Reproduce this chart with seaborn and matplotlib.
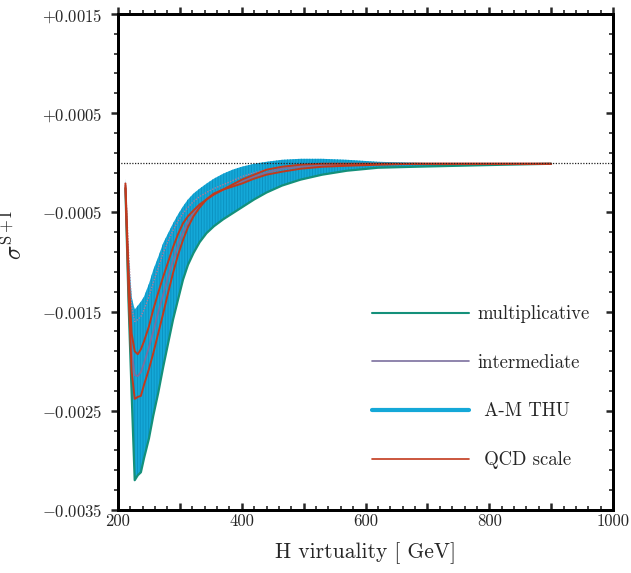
import numpy as np
import pandas as pd
import seaborn as sns
import matplotlib
matplotlib.use("Agg")
import matplotlib.pyplot as plt
from matplotlib.ticker import FixedLocator, MultipleLocator, FuncFormatter
from matplotlib.lines import Line2D

sns.set_theme(style="white")
plt.rcParams.update({
    "font.family": "serif",
    "font.serif": ["cmr10"],
    "mathtext.fontset": "cm",
    "axes.unicode_minus": False,
    "axes.formatter.use_mathtext": True,
    "hatch.linewidth": 0.7,
})

# ---- data ----
mass = [212, 217, 222, 227, 232, 237, 242, 250, 257, 265, 273, 281, 289, 297,
        305, 313, 322, 332, 343, 355, 370, 385, 400, 420, 440, 465, 495, 530,
        570, 620, 680, 750, 820, 900]

band_hi = [-0.00016, -0.00090, -0.00135, -0.00148, -0.00144, -0.00140, -0.00135,
           -0.00122, -0.00108, -0.00095, -0.00081, -0.00071, -0.00061, -0.00052,
           -0.00044, -0.00037, -0.00031, -0.00026, -0.00021, -0.00016, -0.00011,
           -0.00007, -0.00004, -0.00001, 0.00001, 0.00003, 0.00004, 0.00004,
           0.00003, 0.00001, 0.0, -0.00001, -0.00001, -0.00001]

band_lo = [-0.00026, -0.00140, -0.00232, -0.00320, -0.00315, -0.00312, -0.00298,
           -0.00278, -0.00255, -0.00232, -0.00206, -0.00182, -0.00158, -0.00138,
           -0.00118, -0.00103, -0.00091, -0.00080, -0.00071, -0.00064, -0.00057,
           -0.00051, -0.00045, -0.00037, -0.00030, -0.00023, -0.00017, -0.00012,
           -0.00008, -0.00005, -0.00004, -0.00003, -0.00002, -0.00001]

qcd_hi = [-0.00021, -0.00110, -0.00172, -0.00190, -0.00193, -0.00188, -0.00180,
          -0.00165, -0.00148, -0.00131, -0.00115, -0.00100, -0.00085, -0.00072,
          -0.00061, -0.00054, -0.00048, -0.00042, -0.00037, -0.00032, -0.00027,
          -0.00022, -0.00017, -0.00012, -0.00007, -0.00004, -0.00002, -0.00001,
          -0.00001, -0.00001, -0.00001, -0.00001, -0.00001, -0.00001]

qcd_lo = [-0.00025, -0.00130, -0.00210, -0.00238, -0.00236, -0.00235, -0.00224,
          -0.00208, -0.00192, -0.00172, -0.00152, -0.00131, -0.00111, -0.00093,
          -0.00078, -0.00065, -0.00054, -0.00045, -0.00037, -0.00031, -0.00027,
          -0.00024, -0.00021, -0.00016, -0.00012, -0.00009, -0.00006, -0.00004,
          -0.00003, -0.00002, -0.00001, -0.00001, -0.00001, -0.00001]

inter_mid = [-0.00023, -0.00120, -0.00190, -0.00214, -0.00215, -0.00211, -0.00202,
             -0.00186, -0.00170, -0.00151, -0.00133, -0.00115, -0.00098, -0.00083,
             -0.00070, -0.00060, -0.00051, -0.00043, -0.00037, -0.00032, -0.00027,
             -0.00023, -0.00019, -0.00014, -0.00010, -0.00006, -0.00004, -0.00003,
             -0.00002, -0.00001, -0.00001, -0.00001, -0.00001, -0.00001]

inter_hi = [-0.00020, -0.00090, -0.00145, -0.00160, -0.00158, -0.00155, -0.00148,
            -0.00135, -0.00121, -0.00106, -0.00091, -0.00079, -0.00068, -0.00059,
            -0.00051, -0.00045, -0.00039, -0.00034, -0.00030, -0.00026, -0.00022,
            -0.00018, -0.00014, -0.00010, -0.00007, -0.00004, -0.00002, -0.00001,
            -0.00001, -0.00001, -0.00001, -0.00001, -0.00001, -0.00001]

labels = ["multiplicative", "intermediate", " A-M THU", " QCD scale"]

df = pd.DataFrame({"mass": mass, "band_hi": band_hi, "band_lo": band_lo,
                   "qcd_hi": qcd_hi, "qcd_lo": qcd_lo,
                   "inter_mid": inter_mid, "inter_hi": inter_hi})

c_teal = "#14907a"
c_purple = "#7b6f9e"
c_cyan = "#14a8d8"
c_cyan_dark = "#0b93c2"
c_red = "#c23a1c"

fig = plt.figure(figsize=(6.31, 5.73), dpi=100)
ax = fig.add_axes([0.187, 0.110, 0.7845, 0.8656])

ax.fill_between(df["mass"], df["band_lo"], df["band_hi"], facecolor=c_cyan,
                edgecolor=c_cyan_dark, hatch="||||||", linewidth=0, zorder=1)
sns.lineplot(data=df, x="mass", y="band_lo", color=c_teal, lw=1.6, ax=ax,
             estimator=None, zorder=3)
sns.lineplot(data=df, x="mass", y="inter_hi", color="#b07a9c", lw=1.0, ax=ax,
             estimator=None, linestyle=(0, (1, 1)), zorder=3)
sns.lineplot(data=df, x="mass", y="inter_mid", color=c_purple, lw=1.3, ax=ax,
             estimator=None, zorder=3)
sns.lineplot(data=df, x="mass", y="qcd_hi", color=c_red, lw=1.4, ax=ax,
             estimator=None, zorder=4)
sns.lineplot(data=df, x="mass", y="qcd_lo", color=c_red, lw=1.4, ax=ax,
             estimator=None, zorder=4)
ax.axhline(0, color="#222222", ls=(0, (1, 1.2)), lw=0.9, zorder=6)

ax.set_xlim(200, 1000)
ax.set_ylim(-0.0035, 0.0015)

# ticks
ymaj = [-0.0035, -0.0025, -0.0015, -0.0005, 0.0005, 0.0015]
ymin = list(np.arange(-0.0035, 0.00151, 0.0002))
ax.yaxis.set_major_locator(FixedLocator(ymaj))
ax.yaxis.set_minor_locator(FixedLocator(ymin))
ax.yaxis.set_major_formatter(FuncFormatter(lambda v, p: f"${v:+.4f}$"))
ax.xaxis.set_major_locator(MultipleLocator(100))
ax.xaxis.set_minor_locator(MultipleLocator(20))
ax.xaxis.set_major_formatter(FuncFormatter(
    lambda v, p: f"{int(round(v))}" if int(round(v)) % 200 == 0 else ""))

ax.tick_params(axis="y", which="major", direction="out", length=5, width=1.8,
               labelsize=12, pad=6, left=True, right=False)
ax.tick_params(axis="y", which="minor", direction="out", length=3, width=1.2,
               left=True, right=False)
ax.tick_params(axis="x", which="major", direction="in", length=5, width=1.8,
               labelsize=12, pad=3, bottom=True, top=False)
ax.tick_params(axis="x", which="minor", direction="in", length=3, width=1.2,
               bottom=True, top=False)

# right axis: ticks pointing inward
ax_r = ax.twinx()
ax_r.set_ylim(ax.get_ylim())
ax_r.yaxis.set_major_locator(FixedLocator(ymaj))
ax_r.yaxis.set_minor_locator(FixedLocator(ymin))
ax_r.tick_params(axis="y", which="major", direction="in", length=5, width=1.8,
                 right=True, left=False, labelright=False)
ax_r.tick_params(axis="y", which="minor", direction="in", length=3, width=1.2,
                 right=True, left=False)

# top axis: ticks pointing outward
ax_t = ax.twiny()
ax_t.set_xlim(ax.get_xlim())
ax_t.xaxis.set_major_locator(MultipleLocator(100))
ax_t.xaxis.set_minor_locator(MultipleLocator(20))
ax_t.tick_params(axis="x", which="major", direction="out", length=5, width=1.8,
                 top=True, bottom=False, labeltop=False)
ax_t.tick_params(axis="x", which="minor", direction="out", length=3, width=1.2,
                 top=True, bottom=False)

for a in (ax, ax_r, ax_t):
    for s in a.spines.values():
        s.set_linewidth(1.9)
        s.set_color("black")

ax.set_xlabel("H virtuality [ GeV]", fontsize=15.5, labelpad=9)
ax.set_ylabel(r"$\sigma^{\rm S+I}$", fontsize=17)
ax.yaxis.set_label_coords(-0.183, 0.555)

handles = [Line2D([], [], color=c_teal, lw=1.5),
           Line2D([], [], color=c_purple, lw=1.2),
           Line2D([], [], color=c_cyan, lw=3.0),
           Line2D([], [], color=c_red, lw=1.2)]
ax_t.legend(handles, labels, loc="upper left", bbox_to_anchor=(0.513, 0.413),
            bbox_transform=ax.transAxes,
            frameon=False, fontsize=13.5, handlelength=5.2, handletextpad=0.45,
            labelspacing=1.64, borderpad=0, borderaxespad=0)

fig.savefig("out.png", dpi=100)
